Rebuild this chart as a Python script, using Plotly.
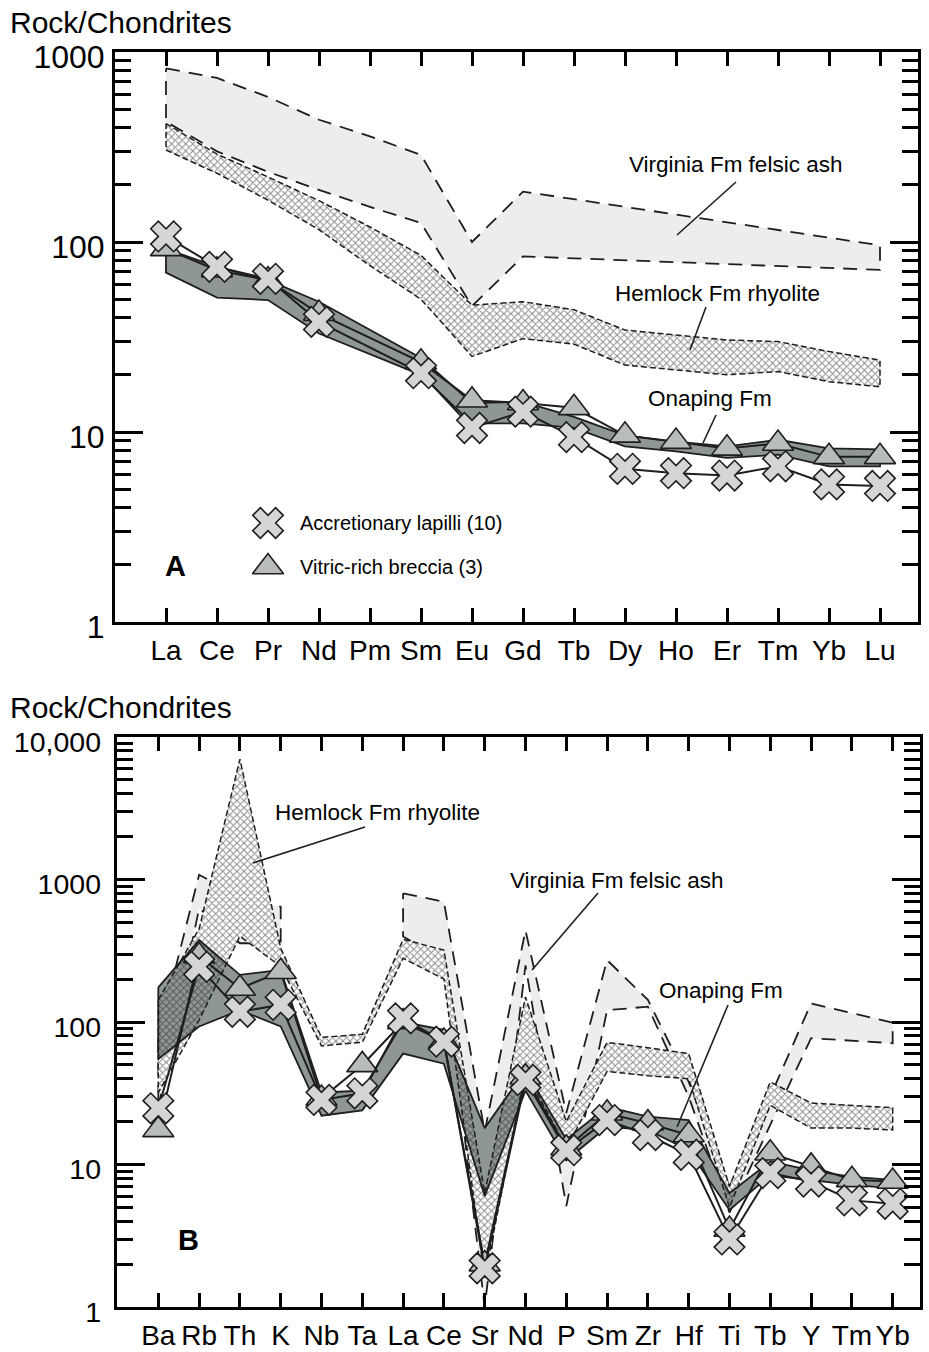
import plotly.graph_objects as go

W, H = 929, 1352

# ---------------- Panel A data (rare earth elements) ----------------
ree_cats = ["La", "Ce", "Pr", "Nd", "Pm", "Sm", "Eu", "Gd", "Tb", "Dy", "Ho", "Er", "Tm", "Yb", "Lu"]
virginia_a_upper = [820, 730, 580, 440, 360, 287, 100, 184, 168, 153, 140, 127, 116, 106, 96]
virginia_a_lower = [430, 300, 234, 188, 153, 126, 46, 84, 82, 80, 78, 76.4, 74.6, 73, 71.3]
hemlock_a_upper = [420, 290, 220, 165, 120, 85, 46.5, 48.5, 44, 34.4, 32.4, 30.5, 29.9, 26.5, 23.9]
hemlock_a_lower = [305, 230, 166, 116, 75, 50, 25, 31, 29, 22.5, 21.2, 20, 20.8, 18.4, 17.3]
onaping_a_upper = [92, 74, 63, 48.5, None, 24.5, 14.2, 14.4, 12, 9.6, 8.9, 8.4, 9.1, 8.2, 8.1]
onaping_a_lower = [69, 51, 49.5, 33, None, 20, 11.1, 11.1, 10.5, 8.4, 7.9, 7.3, 7.6, 6.6, 6.6]
lapilli_a = [107, 74, 64, 38, None, 20.4, 10.5, 12.8, 9.4, 6.4, 6.07, 5.9, 6.6, 5.3, 5.2]
breccia_a = [92, 71, 63, 42, None, 23.3, 14.7, 14.2, 13.4, 9.6, 8.9, 8.2, 8.7, 7.4, 7.4]

# ---------------- Panel B data (spider diagram) ----------------
spider_cats = ["Ba", "Rb", "Th", "K", "Nb", "Ta", "La", "Ce", "Sr", "Nd", "P", "Sm", "Zr", "Hf", "Ti", "Tb", "Y", "Tm", "Yb"]
virginia_b_upper = [80, 1080, 757, 644, None, None, 800, 698, 17, 440, 23, 272, 143, 38, 7, 30, 135, 115, 99]
virginia_b_lower = [25, 628, 357, 357, None, None, 398, 272, 1.0, 250, 5.1, 121, 128, 30, 4.6, 19, 77, 74, 71]
hemlock_b_upper = [143, 450, 7000, 330, 78, 82, 380, 320, 6.3, 150, 20, 72, 66, 60, 7, 38, 27, 26, 25]
hemlock_b_lower = [32, 103, 400, 245, 68, 72, 280, 200, 1.6, 45, 13, 45, 42, 40, 5, 26, 18, 18, 17.5]
onaping_b_upper = [175, 376, 214, 232, 32, 33, 100, 88, 18, 46, 15, 25.4, 21.7, 20.5, 6.3, 10.5, 9.1, 8.2, 7.8]
onaping_b_lower = [55, 93, 121, 93, 22, 24, 60, 51, 6, 33, 10.7, 18.4, 17.5, 12.6, 4.8, 8.4, 7.8, 7.2, 6.8]
lapilli_b = [24.8, 244, 118, 132, 28.4, 31.6, 106, 72.8, 1.87, 39.2, 12.6, 20.5, 16.1, 11.7, 2.98, 8.7, 7.6, 5.6, 5.3]
breccia_b = [17.5, 290, 172, 225, 29, 50, 100, 73, 2.0, 41, 13, 22.9, 19.5, 16.1, 3.5, 12, 9.7, 7.8, 7.6]

# Legend key entries (labels only; placement is in layout constants below)
key_labels = ["Accretionary lapilli (10)", "Vitric-rich breccia (3)"]

# ---------------- layout constants (pixels) ----------------
A_LEFT, A_RIGHT, A_TOP, A_BOTTOM = 115, 918, 52, 622
B_LEFT, B_RIGHT, B_TOP, B_BOTTOM = 116.7, 920, 737, 1307
KEY_X_PX = 268
KEY_Y_PX = [523, 567]
KEY_TEXT_X_PX = 298

FONT = "Liberation Sans, Arial, Helvetica, sans-serif"
VIRGINIA_FILL = "#eceeed"
ONAPING_FILL = "#8e9696"
X_FILL = "#d3d5d6"
TRI_FILL = "#b8bcbd"
INK = "#1e1e1e"
MARKER_SIZE = 27
CLEAR = "rgba(0,0,0,0)"


def px(x):
    return x / W


def py(y):
    return 1 - y / H


def runs(up, lo, split):
    idx = [i for i, (u, l) in enumerate(zip(up, lo)) if u is not None and l is not None]
    if not split:
        return [idx]
    groups, cur = [], []
    for i in idx:
        if cur and i != cur[-1] + 1:
            groups.append(cur)
            cur = []
        cur.append(i)
    if cur:
        groups.append(cur)
    return groups


fig = go.Figure()


def band(cats, up, lo, xa, ya, fillcolor, line, pattern=None, split=False):
    for g in runs(up, lo, split):
        xs = [cats[i] for i in g] + [cats[i] for i in g[::-1]] + [cats[g[0]]]
        ys = [up[i] for i in g] + [lo[i] for i in g[::-1]] + [up[g[0]]]
        kw = dict(fillpattern=pattern) if pattern else {}
        fig.add_trace(go.Scatter(x=xs, y=ys, mode="lines", fill="toself", fillcolor=fillcolor,
                                 line=line, xaxis=xa, yaxis=ya, showlegend=False,
                                 hoverinfo="skip", **kw))


X_MARKER = dict(symbol="x", size=MARKER_SIZE, color=X_FILL, line=dict(color=INK, width=1.6))
TRI_MARKER = dict(symbol="triangle-up", size=MARKER_SIZE, color=TRI_FILL, line=dict(color=INK, width=1.6))


def series(cats, vals, xa, ya, marker, name):
    fig.add_trace(go.Scatter(x=cats, y=vals, mode="lines+markers", connectgaps=True,
                             line=dict(color=INK, width=2), marker=marker,
                             xaxis=xa, yaxis=ya, name=name, showlegend=False, hoverinfo="skip"))


hem_pattern = dict(shape="x", size=5, solidity=0.38, fgcolor="#1a1a1a", bgcolor="white")
hem_pattern_clear = dict(shape="x", size=5, solidity=0.38, fgcolor="#1a1a1a", bgcolor=CLEAR)
virg_line = dict(color=INK, width=1.8, dash="14px,9px")
hem_line = dict(color=INK, width=1.5, dash="6px,3px")
ona_line = dict(color=INK, width=1.8)
no_line = dict(width=0)

# Panel A
band(ree_cats, virginia_a_upper, virginia_a_lower, "x", "y", VIRGINIA_FILL, virg_line)
band(ree_cats, hemlock_a_upper, hemlock_a_lower, "x", "y", "white", hem_line, hem_pattern)
band(ree_cats, onaping_a_upper, onaping_a_lower, "x", "y", ONAPING_FILL, ona_line)
series(ree_cats, breccia_a, "x", "y", TRI_MARKER, key_labels[1])
series(ree_cats, lapilli_a, "x", "y", X_MARKER, key_labels[0])

# Panel B: white ground of the Hemlock field, then Onaping, then the stipple on top
band(spider_cats, virginia_b_upper, virginia_b_lower, "x2", "y2", VIRGINIA_FILL, virg_line, split=True)
band(spider_cats, hemlock_b_upper, hemlock_b_lower, "x2", "y2", "white", no_line)
band(spider_cats, onaping_b_upper, onaping_b_lower, "x2", "y2", ONAPING_FILL, ona_line)
band(spider_cats, hemlock_b_upper, hemlock_b_lower, "x2", "y2", CLEAR, hem_line, hem_pattern_clear)
series(spider_cats, breccia_b, "x2", "y2", TRI_MARKER, key_labels[1])
series(spider_cats, lapilli_b, "x2", "y2", X_MARKER, key_labels[0])

# Legend key symbols on an overlay axis measured in panel-A pixels
for marker, ky in zip([X_MARKER, TRI_MARKER], KEY_Y_PX):
    fig.add_trace(go.Scatter(x=[KEY_X_PX], y=[ky], mode="markers", marker=marker,
                             xaxis="x3", yaxis="y3", showlegend=False, hoverinfo="skip"))


def xaxis_cfg(cats, dom, rng):
    return dict(domain=dom, type="category", categoryorder="array", categoryarray=cats,
                range=rng, showline=True, linewidth=3, linecolor="black", mirror="ticks",
                ticks="inside", ticklen=14, tickwidth=2.5, tickcolor="black",
                showgrid=False, zeroline=False, automargin=False,
                tickfont=dict(family=FONT, size=28, color="black"), ticklabelstandoff=1,
                fixedrange=True)


def yaxis_cfg(dom, decades, labels, anchor, fsize, standoff):
    return dict(domain=dom, type="log", range=[0, decades], anchor=anchor,
                tickmode="array", tickvals=[10 ** e for e in range(decades + 1)], ticktext=labels,
                showline=True, linewidth=3, linecolor="black", mirror="ticks",
                ticks="inside", ticklen=28, tickwidth=2.5, tickcolor="black",
                minor=dict(tickmode="array",
                           tickvals=[m * 10 ** e for e in range(decades) for m in range(2, 10)],
                           ticks="inside", ticklen=16, tickwidth=2.5, tickcolor="black", showgrid=False),
                showgrid=False, zeroline=False, automargin=False,
                tickfont=dict(family=FONT, size=fsize, color="black"), ticklabelstandoff=standoff,
                ticklabelshift=5, fixedrange=True)


xa_dom = [px(A_LEFT), px(A_RIGHT)]
ya_dom = [py(A_BOTTOM), py(A_TOP)]

fig.update_layout(
    width=W, height=H,
    margin=dict(l=0, r=0, t=0, b=0, autoexpand=False),
    paper_bgcolor="white", plot_bgcolor=CLEAR,
    font=dict(family=FONT, color="black"),
    xaxis=xaxis_cfg(ree_cats, xa_dom, [-1.0, 14.745]),
    yaxis=yaxis_cfg(ya_dom, 3, ["1", "10", "100", "1000"], "x", 32, 1),
    xaxis2=xaxis_cfg(spider_cats, [px(B_LEFT), px(B_RIGHT)], [-1.02, 18.67]),
    yaxis2=yaxis_cfg([py(B_BOTTOM), py(B_TOP)], 4, ["1", "10", "100", "1000", "10,000"], "x2", 28.5, 7),
    xaxis3=dict(domain=xa_dom, range=[A_LEFT, A_RIGHT], overlaying="x", anchor="y3", visible=False,
                fixedrange=True),
    yaxis3=dict(domain=ya_dom, range=[A_BOTTOM, A_TOP], overlaying="y", anchor="x3", visible=False,
                fixedrange=True),
    showlegend=False,
)
fig.update_layout(xaxis2=dict(anchor="y2"), xaxis=dict(anchor="y"))


def label(text, x, y, size=22, bold=False, anchor="center"):
    fig.add_annotation(text=("<b>%s</b>" % text) if bold else text, x=px(x), y=py(y),
                       xref="paper", yref="paper", xanchor=anchor, yanchor="middle",
                       showarrow=False, font=dict(family=FONT, size=size, color="black"))


def leader(x0, y0, x1, y1):
    fig.add_shape(type="line", xref="paper", yref="paper", x0=px(x0), y0=py(y0),
                  x1=px(x1), y1=py(y1), line=dict(color=INK, width=1.6))


label("Rock/Chondrites", 8, 22, size=30, anchor="left")
label("Rock/Chondrites", 8, 707, size=30, anchor="left")

for text, ky in zip(key_labels, KEY_Y_PX):
    label(text, KEY_TEXT_X_PX, ky, size=20, anchor="left")

label("Virginia Fm felsic ash", 735, 165, size=22.5)
leader(736, 182, 677, 235)
label("Hemlock Fm rhyolite", 717, 293, size=22.5)
leader(706, 307, 690, 350)
label("Onaping Fm", 710, 399, size=22.5)
leader(716, 415, 703, 443)
label("A", 175, 566, size=29, bold=True)

label("Hemlock Fm rhyolite", 377, 812, size=22.5)
leader(365, 827, 253, 863)
label("Virginia Fm felsic ash", 616, 880, size=22.5)
leader(598, 893, 532, 970)
label("Onaping Fm", 721, 990, size=22.5)
leader(728, 1005, 677, 1127)
label("B", 188, 1240, size=29, bold=True)

fig.write_html("out.html")
